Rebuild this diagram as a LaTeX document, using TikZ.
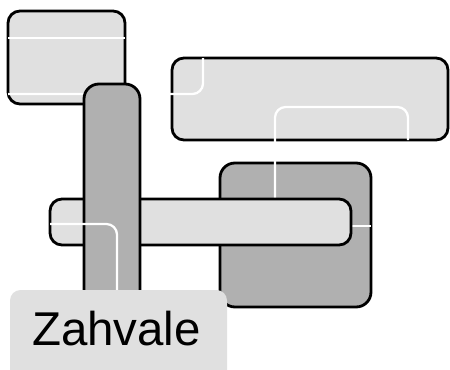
\documentclass[tikz,border=0pt]{standalone}
\usepackage{fontspec}
\setmainfont{Liberation Sans}
\usepackage{tikz}
\definecolor{lightfill}{gray}{0.88}
\definecolor{darkfill}{gray}{0.69}

\begin{document}
\begin{tikzpicture}[x=0.02cm, y=-0.02cm,
  box/.style={draw=black, line width=1.6pt, rounded corners=6.8pt},
  wire/.style={white, line width=1.3pt, rounded corners=6pt}]
\useasboundingbox (0,0) rectangle (450,369);

% Light boxes at the back
\draw[box, fill=lightfill] (8,11) rectangle (125,104);
\draw[box, fill=lightfill] (172,58) rectangle (448,140);
% Dark square
\draw[box, fill=darkfill, rounded corners=8.5pt] (220,163) rectangle (371,307);

% White wires
\draw[wire] (8,38) -- (125,38);
\draw[wire] (8,94) -- (203,94) -- (203,58);
\draw[wire] (275,198) -- (275,107) -- (408,107) -- (408,140);
\draw[wire] (351,226) -- (371,226);

% Horizontal bar
\draw[box, fill=lightfill] (50,199) rectangle (351,245);
% Tall dark bar
\draw[box, fill=darkfill, rounded corners=8.5pt] (84,84) rectangle (140,335);
\draw[wire] (50,224) -- (117,224) -- (117,295);

% Title
\fill[lightfill, rounded corners=6pt] (10,290) rectangle (227,395);
\node[anchor=base, font=\fontsize{27}{32}\selectfont, inner sep=0pt] (title) at (116.5,345) {Zahvale};
\end{tikzpicture}
\end{document}
